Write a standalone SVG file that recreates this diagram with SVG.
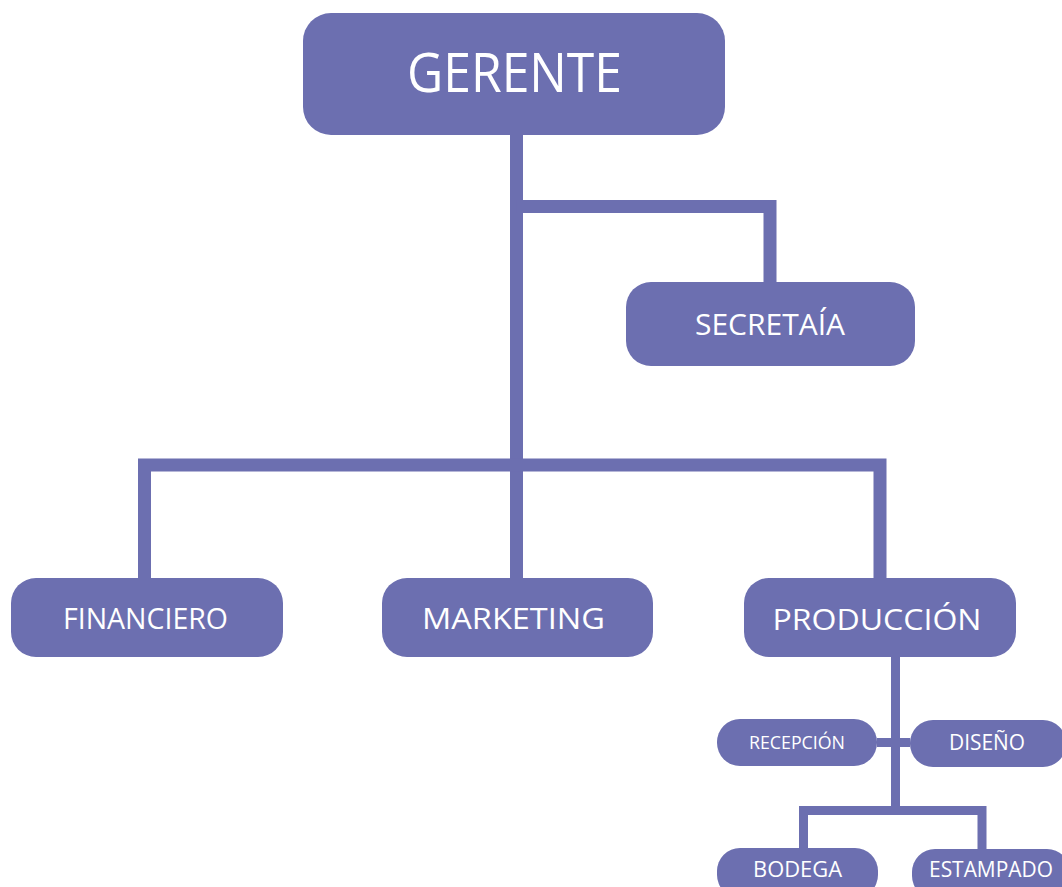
<svg xmlns="http://www.w3.org/2000/svg" width="1062" height="887" viewBox="0 0 1062 887">
<style>
.box{fill:#6c6fb0}
.lbl{fill:#ffffff;font-family:"Open Sans","Noto Sans","Liberation Sans",sans-serif;text-anchor:middle}
.c1{fill:none;stroke:#6c6fb0;stroke-width:13;stroke-linejoin:miter;stroke-linecap:butt}
.c2{fill:none;stroke:#6c6fb0;stroke-width:9;stroke-linejoin:miter;stroke-linecap:butt}
</style>
<rect width="1062" height="887" fill="#ffffff"/>
<g id="connectors">
<path class="c1" d="M516.5 135 V578"/>
<path class="c1" d="M516.5 206.5 H770 V282"/>
<path class="c1" d="M144.5 578 V465 H880 V578"/>
<path class="c2" d="M895.5 657 V811"/>
<path class="c2" d="M877 742.5 H910"/>
<path class="c2" d="M803.5 848 V810.5 H982 V850"/>
</g>
<g id="gerente">
<rect class="box" x="303" y="13" width="422" height="122" rx="28"/>
<text class="lbl" x="514.5" y="92" font-size="54" textLength="215" lengthAdjust="spacingAndGlyphs">GERENTE</text>
</g>
<g id="secretaria">
<rect class="box" x="626" y="282" width="289" height="84" rx="25"/>
<text class="lbl" x="770" y="335" font-size="30" textLength="150" lengthAdjust="spacingAndGlyphs">SECRETAÍA</text>
</g>
<g id="financiero">
<rect class="box" x="11" y="578" width="272" height="79" rx="25"/>
<text class="lbl" x="145.5" y="629" font-size="30" textLength="165" lengthAdjust="spacingAndGlyphs">FINANCIERO</text>
</g>
<g id="marketing">
<rect class="box" x="382" y="578" width="271" height="79" rx="25"/>
<text class="lbl" x="513.5" y="629" font-size="30" textLength="183" lengthAdjust="spacingAndGlyphs">MARKETING</text>
</g>
<g id="produccion">
<rect class="box" x="744" y="578" width="272" height="79" rx="25"/>
<text class="lbl" x="877" y="630" font-size="30" textLength="209" lengthAdjust="spacingAndGlyphs">PRODUCCIÓN</text>
</g>
<g id="recepcion">
<rect class="box" x="717" y="719" width="160" height="47" rx="23"/>
<text class="lbl" x="797" y="749" font-size="18" textLength="96" lengthAdjust="spacingAndGlyphs">RECEPCIÓN</text>
</g>
<g id="diseno">
<rect class="box" x="910" y="720" width="156" height="47" rx="23"/>
<text class="lbl" x="987" y="750" font-size="21" textLength="76" lengthAdjust="spacingAndGlyphs">DISEÑO</text>
</g>
<g id="bodega">
<rect class="box" x="717" y="848" width="161" height="50" rx="23"/>
<text class="lbl" x="797.5" y="877" font-size="22" textLength="89" lengthAdjust="spacingAndGlyphs">BODEGA</text>
</g>
<g id="estampado">
<rect class="box" x="912" y="849" width="158" height="50" rx="23"/>
<text class="lbl" x="991" y="877" font-size="22" textLength="124" lengthAdjust="spacingAndGlyphs">ESTAMPADO</text>
</g>
</svg>
